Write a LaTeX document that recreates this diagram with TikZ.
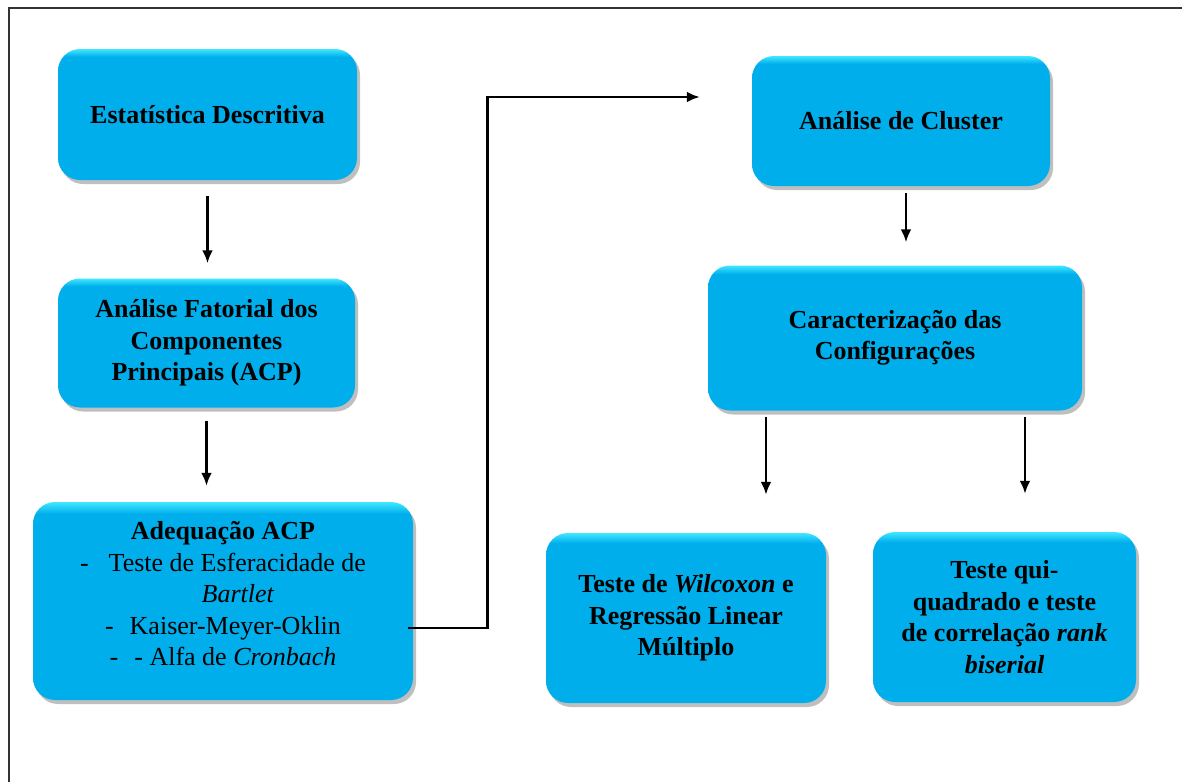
\documentclass[tikz,border=0pt]{standalone}
\usepackage{fontspec}
\setmainfont{Liberation Serif}
\usepackage{tikz}
\usetikzlibrary{arrows.meta,shadows}
\definecolor{boxblue}{RGB}{0,174,236}
\definecolor{boxtop}{RGB}{64,232,255}
\pgfdeclareverticalshading{boxshade}{100bp}{color(0bp)=(boxblue); color(25bp)=(boxblue); color(72bp)=(boxblue); color(75bp)=(boxtop); color(100bp)=(boxtop)}

\begin{document}
\begin{tikzpicture}[x=1pt,y=-1pt]
\tikzstyle{box}=[rectangle,rounded corners=22pt,shading=boxshade,align=center,
	font=\bfseries\fontsize{26}{31.5}\selectfont,
	drop shadow={shadow xshift=3pt,shadow yshift=-4pt,opacity=0.25,fill=black}]
\tikzstyle{arrow}=[line width=2.8pt,-{Latex[length=13pt,width=11pt]}]
\useasboundingbox (0,0) rectangle (1182,782);
\draw[line width=1.4pt,black!80] (9,782) -- (9,8) -- (1182,8);
% left column
\node[box,minimum width=299pt,minimum height=131pt] (desc) at (207.5,114.5) {Estatística Descritiva};
\node[box,minimum width=297pt,minimum height=129pt] (fator) at (206.5,343)
	{Análise Fatorial dos\\Componentes\\Principais (ACP)};
\node[box,minimum width=380pt,minimum height=198pt] (adeq) at (223,601)
	{Adequação ACP\\
	\mdseries -\hspace{20pt}Teste de Esferacidade de\\
	\mdseries\hspace*{30pt}\textit{Bartlet}\\
	\mdseries -\hspace{16pt}Kaiser-Meyer-Oklin\\
	\mdseries -\hspace{16pt}- Alfa de \textit{Cronbach}\\[-17pt]};
% right column
\node[box,minimum width=298pt,minimum height=130pt] (cluster) at (901,121) {Análise de Cluster};
\node[box,minimum width=374pt,minimum height=145pt] (carac) at (895,338)
	{Caracterização das\\Configurações};
\node[box,minimum width=280pt,minimum height=170pt] (wilc) at (686,618)
	{Teste de \textit{Wilcoxon} e\\Regressão Linear\\Múltiplo};
\node[box,minimum width=263pt,minimum height=170pt] (qui) at (1004.5,617)
	{Teste qui-\\quadrado e teste\\de correlação \textit{rank}\\\textit{biserial}};
% connectors
\draw[arrow,shorten <=16pt,shorten >=15pt] (desc.south) -- (desc.south |- fator.north);
\draw[arrow,shorten <=13pt,shorten >=16pt] (fator.south) -- (fator.south |- adeq.north);
\draw[arrow] ([shift={(-5,27)}]adeq.east) -- ++(79,0) |- ([shift={(-52,-24)}]cluster.west);
\draw[arrow,shorten <=7pt,shorten >=23pt] ([xshift=5pt]cluster.south) -- ([xshift=5pt]cluster.south |- carac.north);
\draw[arrow,shorten <=6pt,shorten >=38pt] ([xshift=-129pt]carac.south) -- ([xshift=-129pt]carac.south |- wilc.north);
\draw[arrow,shorten <=6pt,shorten >=38pt] ([xshift=130pt]carac.south) -- ([xshift=130pt]carac.south |- qui.north);
\end{tikzpicture}
\end{document}
